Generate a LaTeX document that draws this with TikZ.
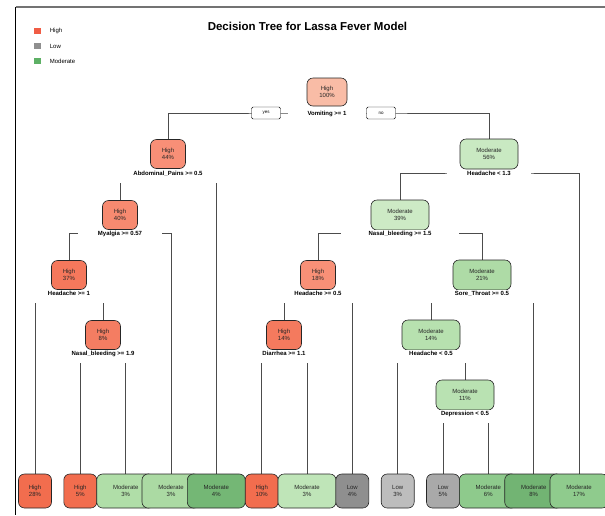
\documentclass[tikz,border=0pt]{standalone}
\usepackage{fontspec}
\setmainfont{Liberation Sans}
\usepackage{tikz}
\usetikzlibrary{calc,positioning,backgrounds}

\definecolor{keyHigh}{HTML}{F05C45}
\definecolor{keyLow}{HTML}{8F8F8F}
\definecolor{keyMod}{HTML}{5DB065}
\definecolor{c100}{HTML}{F9BCA6}
\definecolor{c44}{HTML}{F88F77}
\definecolor{c40}{HTML}{F78A70}
\definecolor{c37}{HTML}{F5785C}
\definecolor{c8}{HTML}{F47D62}
\definecolor{c18}{HTML}{F89077}
\definecolor{c14h}{HTML}{F47A5E}
\definecolor{c56}{HTML}{C9E9C2}
\definecolor{c39}{HTML}{CDEAC5}
\definecolor{c21}{HTML}{AEDBA6}
\definecolor{c14m}{HTML}{B7E1AF}
\definecolor{c11}{HTML}{B9E2B2}
\definecolor{lfHigh}{HTML}{F26D4E}
\definecolor{lfModA}{HTML}{B0DEA8}
\definecolor{lfModB}{HTML}{ABDAA3}
\definecolor{lfModC}{HTML}{74B775}
\definecolor{lfModD}{HTML}{BFE5B8}
\definecolor{lfModE}{HTML}{8ECA8C}
\definecolor{lfModF}{HTML}{72B473}
\definecolor{lfModG}{HTML}{8FCB8D}
\definecolor{lfLowA}{HTML}{8F8F8F}
\definecolor{lfLowB}{HTML}{BDBDBD}
\definecolor{lfLowC}{HTML}{A9A9A9}

\begin{document}
\begin{tikzpicture}[x=1pt, y=-1pt,
    box/.style={draw=black!85, line width=.6pt, rounded corners=6pt, align=center,
        text=black!85, inner sep=1pt, font=\fontsize{6}{7.2}\selectfont},
    hi/.style={box, minimum width=35pt, minimum height=29pt},
    md/.style={box, minimum width=58pt, minimum height=30pt},
    leaf/.style={box, minimum width=33pt, minimum height=34pt},
    mleaf/.style={leaf, minimum width=58pt},
    split/.style={fill=white, anchor=base, inner xsep=20pt, inner ysep=.5pt,
        text height=5pt, text depth=7pt, font=\bfseries\fontsize{6}{7}\selectfont},
    yn/.style={draw, fill=white, rounded corners=1.5pt, minimum width=29pt,
        minimum height=12pt, inner sep=0pt, font=\fontsize{4.5}{5}\selectfont},
    branch/.style={draw=black!70, line width=.7pt},
    key/.style={minimum width=7pt, minimum height=6pt, inner sep=0pt},
    keytext/.style={font=\fontsize{6}{7}\selectfont, inner sep=1pt}
]
\useasboundingbox (0,0) rectangle (605,515);

% frame
\draw[black!55, line width=1.2pt] (15.6,7) -- (605,7);
\draw[black, line width=.8pt] (15.6,7) -- (15.6,515);

% legend and title
\node[key, fill=keyHigh] (kh) at (37,31) {};
\node[key, fill=keyLow] (kl) at (37,46) {};
\node[key, fill=keyMod] (km) at (37,61) {};
\node[keytext, right=8pt of kh] (th) {High};
\node[keytext, right=8pt of kl] (tl) {Low};
\node[keytext, right=8pt of km] (tm) {Moderate};
\node[font=\bfseries\fontsize{11.5}{13}\selectfont] (ttl) at (307.5,26) {Decision Tree for Lassa Fever Model};

% inner nodes
\node[hi, minimum width=40pt, minimum height=28pt, fill=c100] (n100) at (327,92) {High\\100\%};
\node[split] (s100) at (327,115) {Vomiting >= 1};
\node[yn] (yes) at (266,113) {yes};
\node[yn] (no) at (381,113) {no};

\node[hi, fill=c44] (n44) at (168,154) {High\\44\%};
\node[split] (s44) at (168,175) {Abdominal\_Pains >= 0.5};
\node[md, fill=c56] (n56) at (489,154) {Moderate\\56\%};
\node[split] (s56) at (489,175) {Headache < 1.3};

\node[hi, fill=c40] (n40) at (120,215) {High\\40\%};
\node[split] (s40) at (120,235) {Myalgia >= 0.57};
\node[md, fill=c39] (n39) at (400,215) {Moderate\\39\%};
\node[split, inner xsep=28pt] (s39) at (400,235) {Nasal\_bleeding >= 1.5};

\node[hi, fill=c37] (n37) at (69,275) {High\\37\%};
\node[split] (s37) at (69,295) {Headache >= 1};
\node[hi, fill=c18] (n18) at (318,275) {High\\18\%};
\node[split] (s18) at (318,295) {Headache >= 0.5};
\node[md, fill=c21] (n21) at (482,275) {Moderate\\21\%};
\node[split, inner xsep=27pt] (s21) at (482,295) {Sore\_Throat >= 0.5};

\node[hi, fill=c8] (n8) at (103,335) {High\\8\%};
\node[split] (s8) at (103,355) {Nasal\_bleeding >= 1.9};
\node[hi, fill=c14h] (n14h) at (284,335) {High\\14\%};
\node[split] (s14h) at (284,355) {Diarrhea >= 1.1};
\node[md, fill=c14m] (n14m) at (431,335) {Moderate\\14\%};
\node[split] (s14m) at (431,355) {Headache < 0.5};

\node[md, fill=c11] (n11) at (465,395) {Moderate\\11\%};
\node[split] (s11) at (465,415) {Depression < 0.5};

% leaves
\node[leaf, fill=lfHigh] (l1) at (35,491) {High\\28\%};
\node[leaf, fill=lfHigh] (l2) at (80.3,491) {High\\5\%};
\node[mleaf, fill=lfModA] (l3) at (125.7,491) {Moderate\\3\%};
\node[mleaf, fill=lfModB] (l4) at (171,491) {Moderate\\3\%};
\node[mleaf, fill=lfModC] (l5) at (216.3,491) {Moderate\\4\%};
\node[leaf, fill=lfHigh] (l6) at (261.7,491) {High\\10\%};
\node[mleaf, fill=lfModD] (l7) at (307,491) {Moderate\\3\%};
\node[leaf, fill=lfLowA] (l8) at (352.3,491) {Low\\4\%};
\node[leaf, fill=lfLowB] (l9) at (397.7,491) {Low\\3\%};
\node[leaf, fill=lfLowC] (l10) at (443,491) {Low\\5\%};
\node[mleaf, fill=lfModE] (l11) at (488.3,491) {Moderate\\6\%};
\node[mleaf, fill=lfModF] (l12) at (533.7,491) {Moderate\\8\%};
\node[mleaf, fill=lfModG] (l13) at (579,491) {Moderate\\17\%};

% branches
\begin{scope}[on background layer]
\draw[branch] (n44.north) |- ([yshift=2pt]s100.base) -| (n56.north);
\draw[branch] (n40.north) |- ([yshift=2pt]s44.base) -| (l5.north);
\draw[branch] (n37.north) |- ([yshift=2pt]s40.base) -| (l4.north);
\draw[branch] (l1.north) |- ([yshift=2pt]s37.base) -| (n8.north);
\draw[branch] (l2.north) |- ([yshift=2pt]s8.base) -| (l3.north);
\draw[branch] (n39.north) |- ([yshift=2pt]s56.base) -| (l13.north);
\draw[branch] (n18.north) |- ([yshift=2pt]s39.base) -| (n21.north);
\draw[branch] (n14h.north) |- ([yshift=2pt]s18.base) -| (l8.north);
\draw[branch] (l6.north) |- ([yshift=2pt]s14h.base) -| (l7.north);
\draw[branch] (n14m.north) |- ([yshift=2pt]s21.base) -| (l12.north);
\draw[branch] (l9.north) |- ([yshift=2pt]s14m.base) -| (n11.north);
\draw[branch] (l10.north) |- ([yshift=2pt]s11.base) -| (l11.north);
\end{scope}
\end{tikzpicture}
\end{document}
